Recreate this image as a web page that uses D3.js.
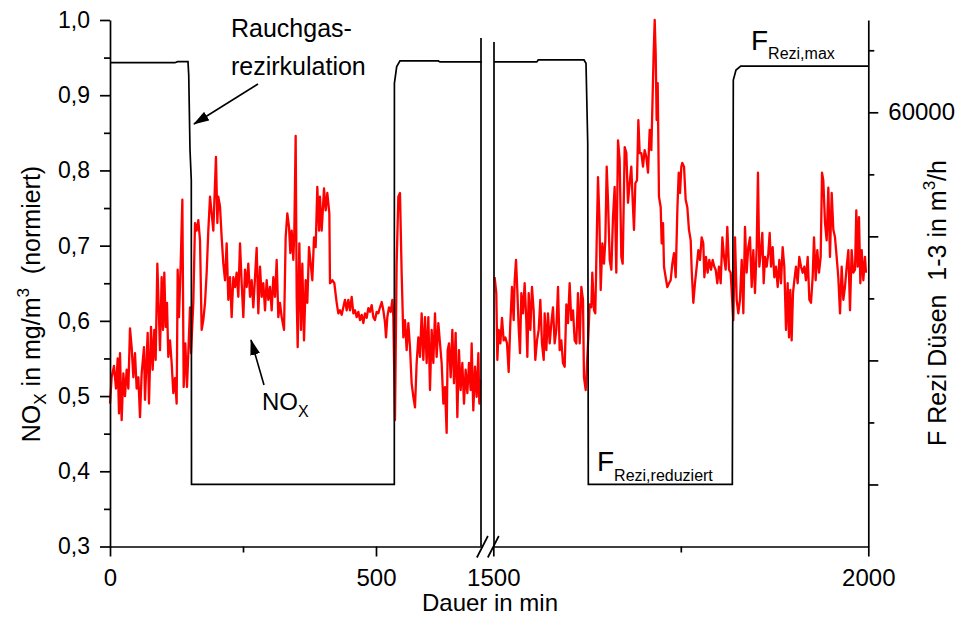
<!DOCTYPE html>
<html>
<head>
<meta charset="utf-8">
<script src="https://cdn.jsdelivr.net/npm/d3@7"></script>
<style>
  body { margin: 0; background: #fff; }
  svg text { font-family: "Liberation Sans", Arial, sans-serif; fill: #000; white-space: pre; }
</style>
</head>
<body>
<svg id="canvas"></svg>
<script>
// NOx (normiert) over time, left segment 0..700 min
let noxLeft = [
  [0,.49],[3.1,.525],[7.5,.54],[11.3,.51],[14.4,.55],[16.9,.477],[18.8,.557],[21.9,.468],[25.1,.53],[28.2,.50],
  [31.3,.535],[34.5,.51],[37.6,.59],[40.7,.565],[43.9,.525],[47,.557],[50.1,.51],[53.3,.525],[56.4,.472],[59.5,.53],
  [63.9,.565],[65.8,.495],[70.8,.584],[73.3,.49],[77.1,.592],[80.2,.535],[83.3,.588],[85.8,.548],[89,.676],[90.9,.632],
  [94,.561],[97.1,.658],[99.6,.588],[102.1,.664],[104.6,.592],[107.1,.624],[109.6,.552],[112.8,.574],[115.9,.544],[119,.504],
  [122.2,.524],[125.3,.49],[127.2,.668],[129.7,.605],[132.8,.674],[136,.761],[138.5,.512],[141.6,.57],[144.7,.512],[147.2,.557],
  [150.4,.618],[152.3,.557],[156.6,.624],[159.8,.73],[162.9,.72],[166,.734],[169.2,.707],[172.3,.588],[175.4,.601],[178.6,.624],
  [181.7,.664],[184.8,.72],[188,.765],[191.1,.743],[194.2,.72],[196.1,.757],[199.2,.818],[201.8,.73],[203.6,.765],[206.8,.752],
  [209.9,.711],[213,.676],[216.2,.654],[219.3,.703],[222.4,.628],[225.6,.658],[228.7,.605],[231.8,.658],[235,.645],[238.1,.664],
  [241.2,.632],[244.4,.703],[247.5,.65],[250.6,.605],[253.8,.668],[256.9,.645],[260,.676],[263.2,.632],[266.3,.654],[269.4,.618],
  [272.6,.658],[275.7,.697],[278.8,.61],[282,.672],[285.1,.632],[288.2,.65],[291.4,.614],[294.5,.654],[297.6,.628],[300.8,.645],
  [303.9,.614],[307,.658],[310.2,.632],[313.3,.681],[316.4,.605],[319.5,.624],[322.7,.605],[327.1,.588],[330.2,.711],[333.3,.743],
  [336.5,.725],[339,.69],[341.5,.72],[344.6,.681],[346.5,.72],[349,.846],[350.9,.632],[352.8,.565],[355.9,.703],[359,.588],
  [361.5,.676],[364.7,.574],[367.8,.654],[370.9,.624],[374.1,.698],[377.2,.676],[380.3,.654],[383.5,.711],[386.6,.698],[389.7,.778],
  [392.9,.72],[394.7,.765],[397.9,.72],[402.3,.776],[405.4,.747],[408.5,.77],[412.3,.743],[413.5,.65],[417.9,.654],[421.7,.65],
  [426.1,.624],[429.2,.61],[432.3,.614],[435.5,.608],[438.6,.618],[441.7,.628],[444.9,.614],[448,.628],[451.1,.614],[454.3,.632],
  [457.4,.61],[460.5,.614],[463.7,.605],[466.8,.612],[469.9,.601],[473.1,.608],[476.2,.597],[479.3,.61],[482.5,.604],[485.6,.617],
  [488.7,.612],[491.9,.621],[495,.605],[498.1,.601],[501.3,.612],[504.4,.61],[507.5,.618],[510.7,.625],[513.8,.614],[516.9,.598],
  [518.8,.578],[521.3,.605],[524.4,.618],[527.6,.612],[530.7,.628],[532.6,.605],[535.7,.468],[538.8,.676],[542,.765],[545.1,.77],
  [548.2,.664],[551.4,.578],[554.5,.601],[557.6,.561],[560.8,.597],[563.9,.565],[567,.517],[570.2,.499],[573.3,.485],[576.4,.544],
  [579.6,.578],[582.7,.552],[585.8,.61],[589,.548],[592.1,.605],[595.2,.544],[598.4,.605],[601.5,.508],[604.6,.588],[607.8,.544],
  [610.9,.61],[614,.552],[617.2,.597],[620.3,.57],[623.4,.544],[626.6,.49],[629.7,.512],[632.8,.451],[634.7,.561],[637.2,.57],
  [640.4,.525],[643.5,.588],[646.6,.517],[649.7,.584],[652.9,.472],[656,.561],[659.1,.508],[662.3,.544],[665.4,.49],[668.5,.535],
  [671.7,.504],[674.8,.544],[677.9,.508],[679.8,.57],[682.9,.481],[686.1,.539],[689.2,.499],[692.4,.557],[694.2,.49],[696.1,.521]
];

// NOx (normiert), right segment 1500..2000 min
let noxRight = [
  [1501.8,.658],[1504,.637],[1505.4,.548],[1507.2,.588],[1509.4,.57],[1511.6,.604],[1513.8,.574],[1516,.578],[1518.3,.57],[1520.5,.532],
  [1522.7,.597],[1524.9,.645],[1527.2,.601],[1528.5,.654],[1530.3,.681],[1532,.641],[1533.8,.592],[1535.6,.557],[1537.4,.637],[1539.6,.61],
  [1541.8,.65],[1544,.601],[1545.4,.552],[1547.2,.637],[1549.4,.588],[1551.6,.645],[1553.8,.614],[1556,.548],[1558.3,.574],[1560.5,.588],
  [1562.7,.628],[1564.9,.57],[1567.2,.548],[1568.5,.61],[1570.7,.561],[1572.9,.61],[1575.2,.57],[1577.4,.597],[1579.6,.618],[1581.8,.57],
  [1584,.588],[1586.3,.645],[1588.5,.561],[1590.7,.574],[1592.9,.544],[1595.2,.539],[1597.4,.622],[1599.6,.597],[1601.8,.65],[1604,.601],
  [1606.3,.614],[1608.5,.574],[1610.7,.57],[1612.9,.637],[1615.2,.57],[1617.4,.645],[1619.6,.628],[1620.9,.525],[1623.2,.508],[1626.3,.57],
  [1628.5,.622],[1630.7,.618],[1632,.664],[1634.3,.614],[1636,.61],[1637.8,.703],[1639.6,.791],[1641.4,.738],[1643.2,.641],[1645.4,.703],
  [1647.6,.676],[1649.4,.707],[1651.2,.805],[1652.9,.761],[1655.2,.681],[1657.4,.668],[1659.6,.738],[1661.8,.778],[1664,.664],[1666.3,.84],
  [1668.5,.814],[1670.7,.685],[1672.5,.676],[1675.2,.831],[1677.4,.823],[1679.6,.757],[1681.8,.783],[1684,.805],[1685.8,.761],[1687.6,.721],
  [1689.4,.783],[1691.6,.787],[1693.4,.867],[1695.2,.823],[1697.4,.823],[1699.6,.805],[1701.8,.827],[1704,.818],[1706.3,.797],[1708.5,.854],
  [1710.7,.827],[1712,.88],[1713.8,.956],[1715.2,1.0],[1716.5,.956],[1717.8,.867],[1719.2,.916],[1720.9,.765],[1723.2,.751],[1724.5,.703],
  [1726.3,.73],[1727.6,.672],[1729.8,.658],[1732,.645],[1734.3,.65],[1736.5,.654],[1738.7,.676],[1740.9,.69],[1743.2,.658],[1745.4,.747],
  [1747.2,.797],[1749,.77],[1750.7,.805],[1752,.81],[1754.3,.805],[1756.5,.761],[1758.7,.751],[1760.9,.721],[1763.2,.707],[1764.5,.668],
  [1766.7,.624],[1768.9,.65],[1771.2,.672],[1773.4,.694],[1775.6,.681],[1777.8,.711],[1780,.703],[1781.4,.658],[1783.6,.685],[1785.8,.664],
  [1788,.681],[1790.3,.668],[1792.5,.681],[1794.7,.672],[1796.5,.668],[1798.7,.65],[1800.9,.672],[1803.2,.65],[1805.4,.711],[1807.6,.685],
  [1809.8,.668],[1812,.725],[1814.3,.668],[1816.5,.664],[1820,.601],[1822.3,.711],[1824.5,.628],[1826.7,.61],[1828.9,.628],[1831.2,.681],
  [1833.4,.61],[1835.6,.725],[1837.8,.664],[1840,.698],[1842.3,.711],[1844.5,.645],[1846.7,.694],[1848.9,.637],[1851.2,.698],[1852.9,.797],
  [1854.7,.672],[1856.9,.694],[1858.7,.717],[1860.5,.65],[1862.3,.685],[1864.5,.672],[1866.7,.69],[1868.5,.717],[1870.3,.672],[1872.5,.698],
  [1874.7,.658],[1876.9,.672],[1879.2,.645],[1881.4,.681],[1883.6,.65],[1885.8,.698],[1888,.672],[1890.3,.588],[1892.5,.65],[1894.3,.578],
  [1896,.641],[1897.8,.574],[1899.6,.637],[1901.4,.654],[1903.6,.672],[1905.8,.65],[1908,.685],[1910.3,.672],[1912.5,.664],[1914.7,.672],
  [1916.9,.654],[1919.2,.685],[1921.4,.628],[1923.6,.624],[1925.8,.658],[1927.6,.711],[1929.8,.654],[1932,.694],[1934.3,.664],[1936.5,.685],
  [1938.3,.797],[1940,.787],[1942.3,.73],[1944.5,.707],[1946.7,.777],[1948.9,.685],[1951.2,.77],[1953.4,.721],[1955.6,.711],[1957.8,.685],
  [1960,.658],[1962.3,.61],[1964.5,.672],[1966.7,.628],[1968.9,.645],[1971.2,.672],[1973.4,.694],[1975.6,.614],[1977.8,.694],[1980,.664],
  [1982.3,.668],[1984,.747],[1985.8,.672],[1987.6,.738],[1989.4,.65],[1991.2,.694],[1993.4,.654],[1995.6,.685],[1996.9,.664]
];

// F Rezi Duesen 1-3 in m3/h
let fLeft = [
  [0,64000],[122,64000],[127,64080],[146.6,64080],[148,63010],[150.4,56960],[152.8,54540],[153.2,30000],
  [534.4,30000],[534.6,62340],[538.9,63680],[545.1,64140],[617.1,64140],[620.3,64060],[699,64060]
];
let fRight = [
  [1500.9,64060],[1557.9,64060],[1560,64220],[1620.9,64220],[1623.6,63950],[1625.9,57520],[1626.7,30000],
  [1818.7,30000],[1820,62600],[1823.6,63410],[1829.9,63730],[2000,63730]
];

let yTicks = [0.3, 0.4, 0.5, 0.6, 0.7, 0.8, 0.9, 1.0];
let yMinor = [0.35, 0.45, 0.55, 0.65, 0.75, 0.85, 0.95];
let xLeftTicks = [0, 500];
let xLeftMinor = [250];
let xRightTicks = [1500, 2000];
let xRightMinor = [1750];
let fTicks = [30000, 40000, 50000, 60000];
let fMinor = [35000, 45000, 55000, 65000];
let fLabelled = [60000];

let width = 964;
let height = 617;
let plotTop = 20;
let plotBottom = 546.5;
let font = '"Liberation Sans", Arial, sans-serif';

let canvas = d3.select("#canvas").attr("width", width).attr("height", height);

let xL = d3.scaleLinear().domain([0, 700]).range([110, 482.4]);
let xR = d3.scaleLinear().domain([1500, 2000]).range([493.3, 868.3]);
let y = d3.scaleLinear().domain([0.3, 1.0]).range([plotBottom, plotTop]);
let yF = d3.scaleLinear().domain([25000, 67440]).range([plotBottom, plotTop]);

let styleAxis = (g, fs) => {
  g.selectAll(".domain, .tick line").attr("stroke", "#000").attr("stroke-width", 1.7);
  g.selectAll("text").attr("font-size", fs).attr("font-family", font).attr("fill", "#000");
};

// red NOx series
let noxLineL = d3.line().x((d) => xL(d[0])).y((d) => y(d[1]));
let noxLineR = d3.line().x((d) => xR(d[0])).y((d) => y(d[1]));
[[noxLeft, noxLineL], [noxRight, noxLineR]].forEach(([data, gen]) => {
  canvas.append("path").datum(data).attr("d", gen)
    .attr("fill", "none").attr("stroke", "#ff0000").attr("stroke-width", 2.3)
    .attr("stroke-linejoin", "round");
});

// black F series
let fLineL = d3.line().x((d) => xL(d[0])).y((d) => yF(d[1]));
let fLineR = d3.line().x((d) => xR(d[0])).y((d) => yF(d[1]));
[[fLeft, fLineL], [fRight, fLineR]].forEach(([data, gen]) => {
  canvas.append("path").datum(data).attr("d", gen)
    .attr("fill", "none").attr("stroke", "#000").attr("stroke-width", 1.7);
});

// break lines at segment edges
canvas.append("line").attr("x1", xL.range()[1] - 1.4).attr("x2", xL.range()[1] - 1.4)
  .attr("y1", 38).attr("y2", plotBottom).attr("stroke", "#000").attr("stroke-width", 1.7);
canvas.append("line").attr("x1", xR.range()[0] + 0.7).attr("x2", xR.range()[0] + 0.7)
  .attr("y1", 42).attr("y2", plotBottom).attr("stroke", "#000").attr("stroke-width", 1.7);

// axes
let gy = canvas.append("g").attr("transform", "translate(110,0)")
  .call(d3.axisLeft(y).tickValues(yTicks).tickSize(10).tickSizeOuter(0).tickPadding(10)
    .tickFormat((d) => d.toFixed(1).replace(".", ",")));
styleAxis(gy, 23);
let gyMinor = canvas.append("g").attr("transform", "translate(110,0)")
  .call(d3.axisLeft(y).tickValues(yMinor).tickSize(6).tickFormat(""));
gyMinor.select(".domain").remove();
styleAxis(gyMinor, 0);

let gxL = canvas.append("g").attr("transform", `translate(0,${plotBottom})`)
  .call(d3.axisBottom(xL).tickValues(xLeftTicks).tickSize(10).tickSizeOuter(0).tickPadding(12).tickFormat(d3.format("d")));
styleAxis(gxL, 24);
let gxLMinor = canvas.append("g").attr("transform", `translate(0,${plotBottom})`)
  .call(d3.axisBottom(xL).tickValues(xLeftMinor).tickSize(6).tickFormat(""));
gxLMinor.select(".domain").remove();
styleAxis(gxLMinor, 0);

let gxR = canvas.append("g").attr("transform", `translate(0,${plotBottom})`)
  .call(d3.axisBottom(xR).tickValues(xRightTicks).tickSize(10).tickSizeOuter(0).tickPadding(12).tickFormat(d3.format("d")));
styleAxis(gxR, 24);
let gxRMinor = canvas.append("g").attr("transform", `translate(0,${plotBottom})`)
  .call(d3.axisBottom(xR).tickValues(xRightMinor).tickSize(6).tickFormat(""));
gxRMinor.select(".domain").remove();
styleAxis(gxRMinor, 0);

let gf = canvas.append("g").attr("transform", `translate(${xR.range()[1]},0)`)
  .call(d3.axisRight(yF).tickValues(fTicks).tickSize(10).tickSizeOuter(0).tickPadding(10)
    .tickFormat((d) => (fLabelled.includes(d) ? d3.format("d")(d) : "")));
styleAxis(gf, 24);
let gfMinor = canvas.append("g").attr("transform", `translate(${xR.range()[1]},0)`)
  .call(d3.axisRight(yF).tickValues(fMinor).tickSize(6).tickFormat(""));
gfMinor.select(".domain").remove();
styleAxis(gfMinor, 0);

// break marks on the x axis
[xL.range()[1], xR.range()[0]].forEach((bx) => {
  canvas.append("line").attr("x1", bx - 5.5).attr("y1", plotBottom + 11).attr("x2", bx + 5.5).attr("y2", plotBottom - 10.5)
    .attr("stroke", "#000").attr("stroke-width", 1.7);
});

// axis titles
let yTitle = canvas.append("text").attr("transform", "translate(40,304) rotate(-90)")
  .attr("text-anchor", "middle").attr("font-size", 25);
yTitle.append("tspan").text("NO");
yTitle.append("tspan").attr("dy", 6).attr("font-size", 17).text("X");
yTitle.append("tspan").attr("dy", -6).text(" in mg/m");
yTitle.append("tspan").attr("dy", -11).attr("font-size", 17).text("3");
yTitle.append("tspan").attr("dy", 11).text("  (normiert)");

let fTitle = canvas.append("text").attr("transform", "translate(946,303) rotate(-90)")
  .attr("text-anchor", "middle").attr("font-size", 25);
fTitle.append("tspan").text("F Rezi Düsen  1-3 in m");
fTitle.append("tspan").attr("dy", -11).attr("font-size", 17).text("3");
fTitle.append("tspan").attr("dy", 11).text("/h");

canvas.append("text").attr("x", 490).attr("y", 611).attr("text-anchor", "middle")
  .attr("font-size", 24).text("Dauer in min");

// annotations
let defs = canvas.append("defs");
defs.append("marker").attr("id", "arrow").attr("markerUnits", "userSpaceOnUse")
  .attr("markerWidth", 16).attr("markerHeight", 10).attr("refX", 15).attr("refY", 5)
  .attr("orient", "auto")
  .append("path").attr("d", "M0,0L16,5L0,10Z").attr("fill", "#000");

canvas.append("text").attr("x", 231).attr("y", 37).attr("font-size", 25).text("Rauchgas-");
canvas.append("text").attr("x", 231).attr("y", 75).attr("font-size", 25).text("rezirkulation");
canvas.append("line").attr("x1", 258).attr("y1", 84).attr("x2", 194).attr("y2", 124)
  .attr("stroke", "#000").attr("stroke-width", 1.6).attr("marker-end", "url(#arrow)");

let noxLabel = canvas.append("text").attr("x", 262).attr("y", 410).attr("font-size", 24);
noxLabel.append("tspan").text("NO");
noxLabel.append("tspan").attr("dy", 7).attr("font-size", 16).text("X");
canvas.append("line").attr("x1", 264).attr("y1", 385).attr("x2", 251).attr("y2", 340)
  .attr("stroke", "#000").attr("stroke-width", 1.6).attr("marker-end", "url(#arrow)");

let fMax = canvas.append("text").attr("x", 751).attr("y", 50).attr("font-size", 28);
fMax.append("tspan").text("F");
fMax.append("tspan").attr("dy", 9).attr("font-size", 16).text("Rezi,max");

let fRed = canvas.append("text").attr("x", 597).attr("y", 471).attr("font-size", 28);
fRed.append("tspan").text("F");
fRed.append("tspan").attr("dy", 10).attr("font-size", 16).text("Rezi,reduziert");
</script>
</body>
</html>
